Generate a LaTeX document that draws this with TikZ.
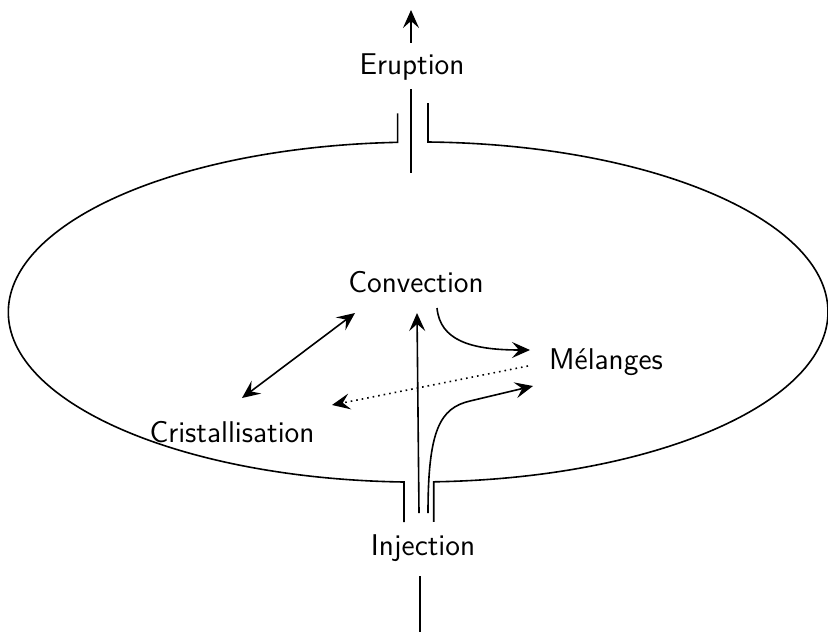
\documentclass[tikz,border=0pt]{standalone}
\usetikzlibrary{arrows.meta}
\begin{document}
\begin{tikzpicture}[x=0.5pt,y=-0.5pt,line width=0.8pt,
  >={Stealth[length=9pt,width=8pt,inset=3.5pt]},
  lbl/.style={font=\sffamily\fontsize{15}{18}\selectfont,inner sep=1pt}]
\useasboundingbox (0,0) rectangle (828,632);

% reservoir, cut at the two vents
\draw (428,103) -- (428,142) arc[start angle=-88.6, end angle=87.8, x radius=410, y radius=170] -- ++(0,40);
\draw (404,522) -- (404,482) arc[start angle=92, end angle=267.1, x radius=410, y radius=170] -- ++(0,-29);

% labels
\node[lbl] (eruption) at (412,67) {Eruption};
\node[lbl] (convection) at (416,282) {Convection};
\node[lbl] (melanges) at (606,362) {M\'elanges};
\node[lbl] (cristal) at (232,432) {Cristallisation};
\node[lbl] (injection) at (423,548) {Injection};

% arrow ends
\coordinate (erupt tip) at (411,10);
\coordinate (vent top) at (411,89);
\coordinate (vent bot) at (411,173);
\coordinate (inj top) at (417,313);
\coordinate (inj base) at (419,513);
\coordinate (feed base) at (428,513);
\coordinate (mel in) at (533,386);
\coordinate (conv out) at (437,308);
\coordinate (mel top) at (530,350);
\coordinate (mel out) at (528,366);
\coordinate (cri in) at (332,405);
\coordinate (cri end) at (242,398);
\coordinate (conv end) at (355,313);
\coordinate (inj low) at (420,632);

\draw[->,shorten <=4pt] (eruption.north -| erupt tip) -- (erupt tip);
\draw (vent top) -- (vent bot);
\draw[->] (inj base) -- (inj top);
\draw[->] (feed base) .. controls (428,430) and (440,408) .. (470,401) -- (mel in);
\draw[->] (conv out) .. controls (440,340) and (470,350) .. (mel top);
\draw[->,dotted] (mel out) -- (cri in);
\draw[<->] (cri end) -- (conv end);
\draw[shorten <=6pt] (injection.south -| inj low) -- (inj low);
\end{tikzpicture}
\end{document}
